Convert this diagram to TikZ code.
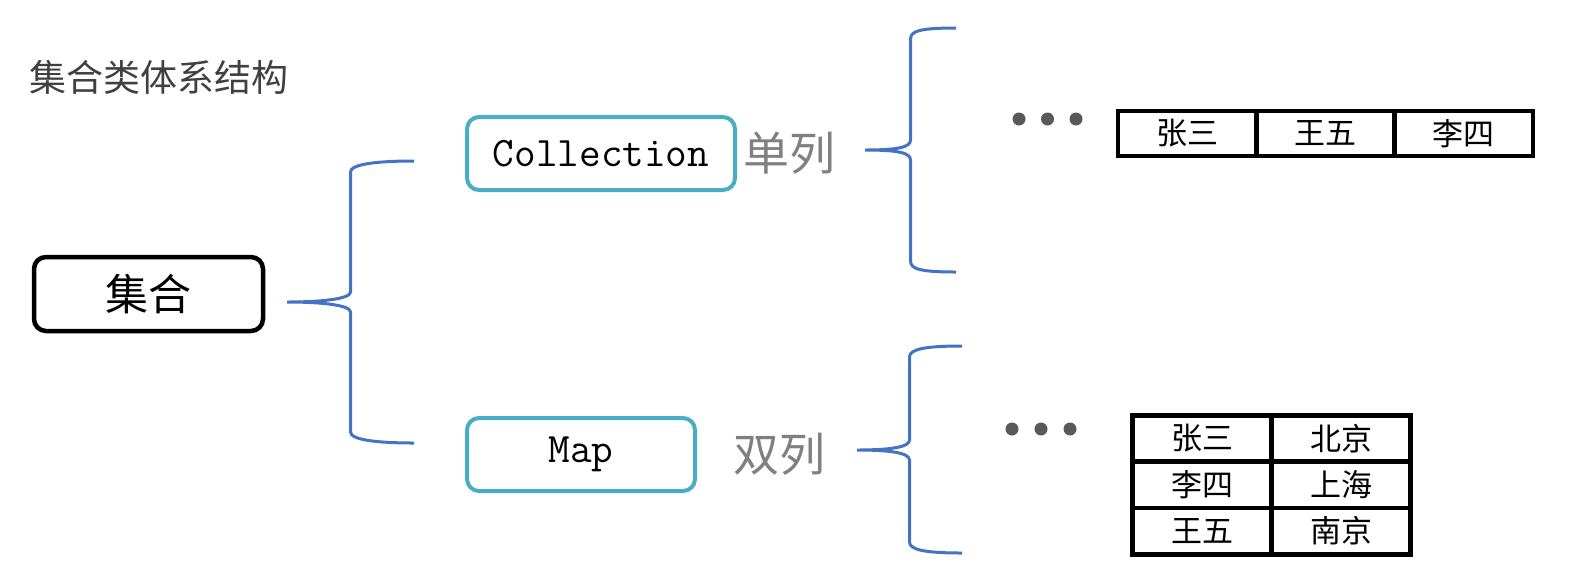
\documentclass[tikz,border=0pt]{standalone}
\usepackage{fontspec}
\usepackage{tikz}
\usetikzlibrary{positioning,calc}
\newfontfamily\cjk{Noto Sans CJK SC}
\definecolor{boxColor}{RGB}{75,172,198}
\definecolor{braceColor}{RGB}{68,114,196}
\definecolor{labelGray}{RGB}{128,128,128}
\definecolor{titleGray}{RGB}{64,64,64}
\definecolor{dotGray}{RGB}{89,89,89}
\tikzstyle{diagram} = [x = 1pt, y = -1pt]
\tikzstyle{rootBox} = [draw=black, line width=4.5pt, rounded corners=12pt, minimum width=229pt, minimum height=74pt, font=\cjk\fontsize{43}{43}\selectfont]
\tikzstyle{typeBox} = [draw=boxColor, line width=4pt, rounded corners=12pt, minimum height=73pt, font=\ttfamily\fontsize{42}{42}\selectfont]
\tikzstyle{kindText} = [text=labelGray, inner sep=0pt, font=\cjk\fontsize{46}{46}\selectfont]
\tikzstyle{titleText} = [text=titleGray, inner sep=0pt, anchor=west, font=\cjk\fontsize{37}{37}\selectfont]
\tikzstyle{braceLine} = [color=braceColor, line width=3pt]
\tikzstyle{cellStyle} = [draw=black, line width=4.5pt, inner sep=0pt, font=\cjk\fontsize{31}{31}\selectfont]
\tikzstyle{dotStyle} = [circle, fill=dotGray, minimum size=13pt, inner sep=0pt]
\newcommand{\tableCell}[6]{\node [cellStyle, minimum width=#4pt, minimum height=#5pt] (#1) at (#2, #3) {#6};}
\newcommand{\curlyBrace}[3]{
  \draw [braceLine] (#2) .. controls +(-36,0) and +(0,-8) .. ($(#1 |- #2)!.5!(#2) + (0,11)$)
    -- ($(#1)!.5!(#1 -| #2) + (0,-10)$) .. controls +(0,7) and +(34,0) .. (#1)
    .. controls +(34,0) and +(0,-7) .. ($(#1)!.5!(#1 -| #2) + (0,10)$)
    -- ($(#1 |- #3)!.5!(#3) + (0,-11)$) .. controls +(0,8) and +(-36,0) .. (#3);
}

\begin{document}
\begin{tikzpicture}[diagram]
  \useasboundingbox (0,0) rectangle (1594,574);

  \node [titleText] (title) at (29,77) {集合类体系结构};

  \node [rootBox] (rootBox) at (148.5,294) {集合};
  \node [typeBox, minimum width=268pt] (collBox) at (601,153.5) {Collection};
  \node [typeBox, minimum width=228pt] (mapBox) at (581,454.5) {Map};
  \node [kindText, right=6pt of collBox] (singleText) {单列};
  \node [kindText, right=36pt of mapBox] (doubleText) {双列};

  % braces
  \coordinate (rootTip) at (287,302);
  \coordinate (rootTop) at (414,161);
  \coordinate (rootBottom) at (414,443);
  \curlyBrace{rootTip}{rootTop}{rootBottom}

  \coordinate (singleTip) at (865,150);
  \coordinate (singleTop) at (956,28);
  \coordinate (singleBottom) at (956,272);
  \curlyBrace{singleTip}{singleTop}{singleBottom}

  \coordinate (doubleTip) at (857,450);
  \coordinate (doubleTop) at (962,346);
  \coordinate (doubleBottom) at (962,553);
  \curlyBrace{doubleTip}{doubleTop}{doubleBottom}

  % dots
  \foreach \dot in {0,1,2} {
    \node [dotStyle] (listDot\dot) at (1019 + 28.5*\dot, 119) {};
    \node [dotStyle] (mapDot\dot) at (1012 + 29*\dot, 429) {};
  }

  % tables
  \foreach \name [count=\col from 0] in {张三, 王五, 李四} {
    \tableCell{listCell\col}{1187.2 + 138.3*\col}{133.5}{138.3}{45}{\name}
  }
  \foreach \key/\value [count=\row from 0] in {张三/北京, 李四/上海, 王五/南京} {
    \tableCell{keyCell\row}{1202}{438.5 + 46.3*\row}{139}{46.3}{\key}
    \tableCell{valueCell\row}{1341}{438.5 + 46.3*\row}{139}{46.3}{\value}
  }
\end{tikzpicture}
\end{document}
